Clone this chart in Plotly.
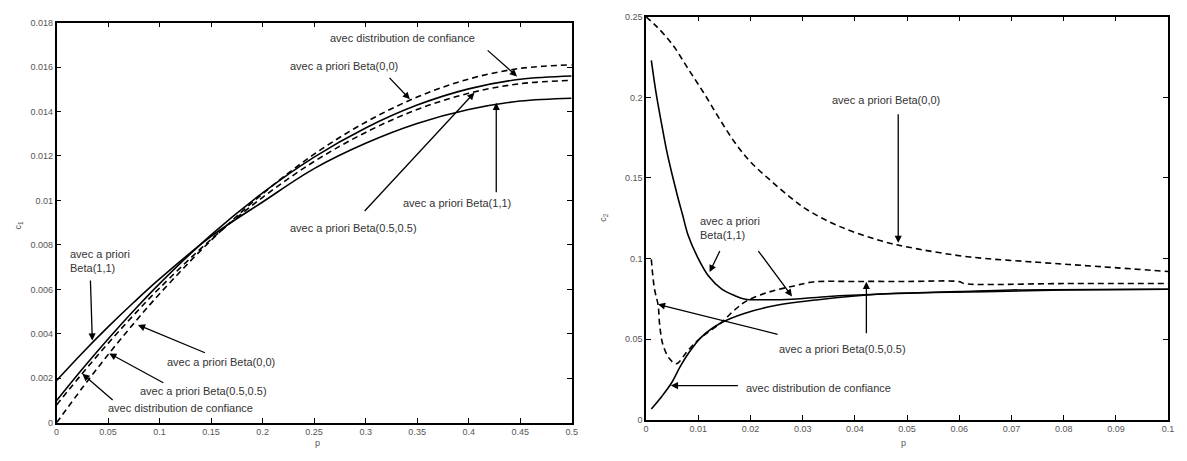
import plotly.graph_objects as go

# ---------------- Left panel data (c1 vs p) ----------------
P_LEFT = [0, 0.025, 0.05, 0.075, 0.1, 0.15, 0.2, 0.25, 0.3, 0.35, 0.4, 0.45, 0.5]
L_BETA00 = [0.0, 0.00157, 0.00306, 0.00447, 0.00580, 0.00821, 0.01030, 0.01208, 0.01352, 0.01465, 0.01546, 0.01594, 0.0161]
L_BETA11 = [0.0019, 0.00314, 0.00431, 0.00542, 0.00647, 0.00838, 0.00993, 0.01143, 0.01257, 0.01346, 0.01409, 0.01447, 0.0146]
L_CONF = [0.001, 0.00242, 0.00377, 0.00505, 0.00626, 0.00845, 0.01034, 0.01195, 0.01326, 0.01429, 0.01502, 0.01545, 0.0156]
L_BETA55 = [0.0008, 0.00222, 0.00357, 0.00485, 0.00606, 0.00825, 0.01014, 0.01175, 0.01306, 0.01409, 0.01482, 0.01525, 0.0154]

# ---------------- Right panel data (c2 vs p) ----------------
R_BETA00_X = [0, 0.002, 0.005, 0.008, 0.011, 0.014, 0.017, 0.020, 0.024, 0.028, 0.031, 0.037, 0.045, 0.052, 0.062, 0.075, 0.087, 0.1]
R_BETA00_Y = [0.25, 0.244, 0.233, 0.218, 0.203, 0.187, 0.172, 0.160, 0.148, 0.137, 0.130, 0.120, 0.111, 0.106, 0.101, 0.0977, 0.095, 0.092]
R_BETA11_X = [0.001, 0.002, 0.003, 0.004, 0.005, 0.006, 0.007, 0.008, 0.010, 0.012, 0.0145, 0.017, 0.019, 0.022, 0.028, 0.035, 0.045, 0.055, 0.065, 0.08, 0.1]
R_BETA11_Y = [0.223, 0.201, 0.183, 0.166, 0.152, 0.139, 0.127, 0.115, 0.100, 0.089, 0.081, 0.077, 0.0748, 0.0745, 0.0748, 0.0765, 0.078, 0.079, 0.0795, 0.0805, 0.081]
R_BETA55_X = [0.001, 0.0016, 0.0023, 0.0026, 0.0032, 0.0045, 0.0058, 0.008, 0.0105, 0.0143, 0.0169, 0.0194, 0.0238, 0.0283, 0.032, 0.04, 0.05, 0.06, 0.061, 0.08, 0.1]
R_BETA55_Y = [0.0995, 0.0813, 0.0712, 0.059, 0.0469, 0.0378, 0.0348, 0.043, 0.051, 0.060, 0.068, 0.074, 0.0795, 0.083, 0.0855, 0.0858, 0.0858, 0.0857, 0.0845, 0.0845, 0.0845]
R_CONF_X = [0.001, 0.003, 0.0048, 0.0065, 0.008, 0.0105, 0.0143, 0.0188, 0.025, 0.033, 0.045, 0.06, 0.07, 0.1]
R_CONF_Y = [0.0067, 0.0145, 0.0225, 0.0328, 0.0407, 0.051, 0.060, 0.066, 0.071, 0.0745, 0.078, 0.0795, 0.0805, 0.081]

# ---------------- Ticks ----------------
L_XTICKS = [0, 0.05, 0.1, 0.15, 0.2, 0.25, 0.3, 0.35, 0.4, 0.45, 0.5]
L_YTICKS = [0, 0.002, 0.004, 0.006, 0.008, 0.01, 0.012, 0.014, 0.016, 0.018]
R_XTICKS = [0, 0.01, 0.02, 0.03, 0.04, 0.05, 0.06, 0.07, 0.08, 0.09, 0.1]
R_YTICKS = [0, 0.05, 0.1, 0.15, 0.2, 0.25]

W, H = 1187, 461
SOLID = dict(color="black", width=1.6)
DASH = dict(color="black", width=1.6, dash="6px,4px")

fig = go.Figure()
fig.add_trace(go.Scatter(x=P_LEFT, y=L_BETA00, mode="lines", line=DASH, line_shape="spline", xaxis="x", yaxis="y"))
fig.add_trace(go.Scatter(x=P_LEFT, y=L_BETA55, mode="lines", line=DASH, line_shape="spline", xaxis="x", yaxis="y"))
fig.add_trace(go.Scatter(x=P_LEFT, y=L_BETA11, mode="lines", line=SOLID, line_shape="spline", xaxis="x", yaxis="y"))
fig.add_trace(go.Scatter(x=P_LEFT, y=L_CONF, mode="lines", line=SOLID, line_shape="spline", xaxis="x", yaxis="y"))

fig.add_trace(go.Scatter(x=R_BETA00_X, y=R_BETA00_Y, mode="lines", line=DASH, line_shape="spline", xaxis="x2", yaxis="y2"))
fig.add_trace(go.Scatter(x=R_BETA55_X, y=R_BETA55_Y, mode="lines", line=DASH, line_shape="spline", xaxis="x2", yaxis="y2"))
fig.add_trace(go.Scatter(x=R_BETA11_X, y=R_BETA11_Y, mode="lines", line=SOLID, line_shape="spline", xaxis="x2", yaxis="y2"))
fig.add_trace(go.Scatter(x=R_CONF_X, y=R_CONF_Y, mode="lines", line=SOLID, line_shape="spline", xaxis="x2", yaxis="y2"))

def px_dom(a, b, total):
    return [a / total, b / total]

axis_common = dict(showline=True, linecolor="black", linewidth=1.5, mirror="ticks",
                   ticks="inside", ticklen=5, tickcolor="black", tickwidth=1.2,
                   showgrid=False, zeroline=False,
                   tickfont=dict(family="Liberation Sans, Arial", size=9, color="#555"))

fig.update_layout(
    width=W, height=H, margin=dict(l=0, r=0, t=0, b=0),
    paper_bgcolor="white", plot_bgcolor="white", showlegend=False,
    xaxis=dict(domain=px_dom(54, 573, W), range=[0, 0.5], tickvals=L_XTICKS, anchor="y", **axis_common),
    yaxis=dict(domain=[1 - 427 / H, 1 - 18 / H], range=[0, 0.018], tickvals=L_YTICKS, anchor="x", **axis_common),
    xaxis2=dict(domain=px_dom(648, 1174, W), range=[0, 0.1], tickvals=R_XTICKS, anchor="y2", **axis_common),
    yaxis2=dict(domain=[1 - 424 / H, 1 - 12 / H], range=[0, 0.25], tickvals=R_YTICKS, anchor="x2", **axis_common),
)

TFONT = dict(family="Liberation Sans, Arial", size=11, color="#333")

def label(text, x, y, ax="x", ay="y", xanchor="center", align="center"):
    fig.add_annotation(text=text, x=x, y=y, xref=ax, yref=ay, showarrow=False,
                       font=TFONT, xanchor=xanchor, yanchor="middle", align=align)

def arrow(x0, y0, x1, y1, ax="x", ay="y"):
    fig.add_annotation(text="", x=x1, y=y1, ax=x0, ay=y0, xref=ax, yref=ay, axref=ax, ayref=ay,
                       showarrow=True, arrowhead=2, arrowsize=1.1, arrowwidth=1.3, arrowcolor="black")

# Left panel annotations
label("avec distribution de confiance", 0.336, 0.01731)
arrow(0.417, 0.01681, 0.447, 0.01558)
label("avec a priori Beta(0,0)", 0.2794, 0.01606)
arrow(0.3218, 0.01558, 0.343, 0.01455)
label("avec a priori Beta(1,1)", 0.389, 0.0099)
arrow(0.4268, 0.0103, 0.4268, 0.01439)
label("avec a priori Beta(0.5,0.5)", 0.288, 0.00876)
arrow(0.2977, 0.00946, 0.4056, 0.01485)
label("avec a priori<br>Beta(1,1)", 0.0106, 0.00726, xanchor="left", align="left")
arrow(0.0328, 0.00647, 0.0347, 0.0037)
label("avec a priori Beta(0,0)", 0.16, 0.00273)
arrow(0.1455, 0.00312, 0.079, 0.0044)
label("avec a priori Beta(0.5,0.5)", 0.1426, 0.00145)
arrow(0.105, 0.00176, 0.0511, 0.00312)
label("avec distribution de confiance", 0.1204, 0.00066)
arrow(0.0559, 0.00097, 0.025, 0.0022)

# Right panel annotations
label("avec a priori Beta(0,0)", 0.046, 0.1984, "x2", "y2")
arrow(0.0483, 0.1905, 0.0483, 0.1098, "x2", "y2")
label("avec a priori<br>Beta(1,1)", 0.00989, 0.119, "x2", "y2", xanchor="left", align="left")
arrow(0.01426, 0.1056, 0.01217, 0.0916, "x2", "y2")
arrow(0.0213, 0.1056, 0.02795, 0.0765, "x2", "y2")
label("avec a priori Beta(0.5,0.5)", 0.03764, 0.0437, "x2", "y2")
arrow(0.02548, 0.0528, 0.00228, 0.0716, "x2", "y2")
arrow(0.0422, 0.0528, 0.0422, 0.0856, "x2", "y2")
label("avec distribution de confiance", 0.01882, 0.0200, "x2", "y2", xanchor="left", align="left")
arrow(0.01787, 0.0212, 0.00475, 0.0212, "x2", "y2")

# Axis titles
AFONT = dict(family="Liberation Sans, Arial", size=9, color="#555")
fig.add_annotation(text="c<sub>1</sub>", x=8 / W, y=1 - 225 / H, xref="paper", yref="paper",
                   showarrow=False, textangle=-90, font=AFONT)
fig.add_annotation(text="c<sub>2</sub>", x=605 / W, y=1 - 217 / H, xref="paper", yref="paper",
                   showarrow=False, textangle=-90, font=AFONT)
fig.add_annotation(text="p", x=312 / W, y=1 - 455 / H, xref="paper", yref="paper",
                   showarrow=False, font=AFONT)
fig.add_annotation(text="p", x=912 / W, y=1 - 455 / H, xref="paper", yref="paper",
                   showarrow=False, font=AFONT)

fig.write_html("out.html")
